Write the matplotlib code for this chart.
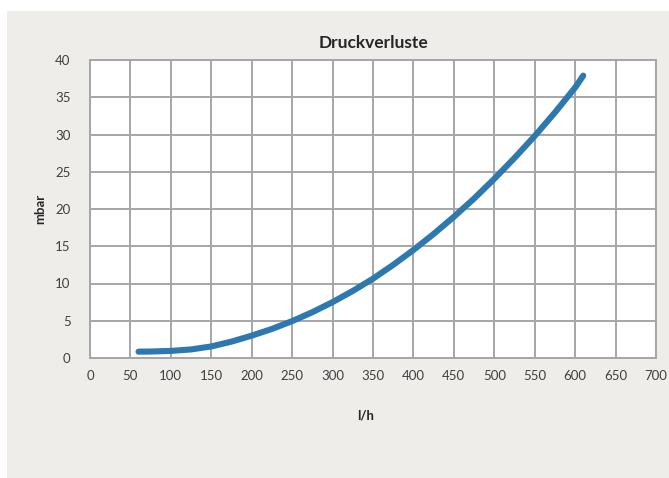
import matplotlib
matplotlib.use('Agg')
import matplotlib.pyplot as plt
from matplotlib.patches import Rectangle

# flow rate (l/h) and pressure loss (mbar)
flow = [60, 75, 100, 125, 150, 175, 200, 225, 250, 275, 300, 325, 350, 375,
        400, 425, 450, 475, 500, 525, 550, 575, 600, 610]
loss = [0.85, 0.87, 0.95, 1.15, 1.55, 2.2, 3.0, 3.9, 4.95, 6.15, 7.5, 9.0, 10.65, 12.5,
        14.5, 16.65, 18.95, 21.4, 24.05, 26.85, 29.8, 32.95, 36.3, 37.9]

x_ticks = list(range(0, 701, 50))
y_ticks = list(range(0, 41, 5))

plt.rcParams['font.family'] = ['Lato', 'DejaVu Sans']

fig = plt.figure(figsize=(6.69, 4.78), dpi=100)
fig.patch.set_facecolor('white')

# beige chart background (behind the axes)
fig.patches.append(Rectangle((7 / 669, 0), 662 / 669, 467 / 478,
                             transform=fig.transFigure, facecolor='#EEEDE9',
                             edgecolor='none', zorder=-10))

ax = fig.add_axes([90 / 669, 120 / 478, 566 / 669, 298 / 478])
ax.set_facecolor('white')

ax.plot(flow, loss, color='#2E78B0', linewidth=4.4, solid_capstyle='round',
        solid_joinstyle='round', zorder=3)

ax.set_xlim(0, 700)
ax.set_ylim(0, 40)
ax.set_xticks(x_ticks)
ax.set_yticks(y_ticks)
ax.grid(True, color='#A6A6A6', linewidth=1.4)
ax.set_axisbelow(True)
for s in ax.spines.values():
    s.set_color('#A6A6A6')
    s.set_linewidth(1.4)
ax.tick_params(length=0, labelsize=9.5, colors='#404040')
ax.tick_params(axis='y', pad=14)
ax.tick_params(axis='x', pad=9)

fig.text(373 / 669, 1 - 43 / 478, 'Druckverluste', ha='center', va='center',
         fontsize=12.5, fontweight='bold', color='#262626')
fig.text(40 / 669, 1 - 209 / 478, 'mbar', ha='center', va='center', rotation=90,
         fontsize=9.5, fontweight='bold', color='#262626')
fig.text(366 / 669, 1 - 415 / 478, 'l/h', ha='center', va='center',
         fontsize=9.5, fontweight='bold', color='#262626')

fig.savefig('out.png', dpi=100)
